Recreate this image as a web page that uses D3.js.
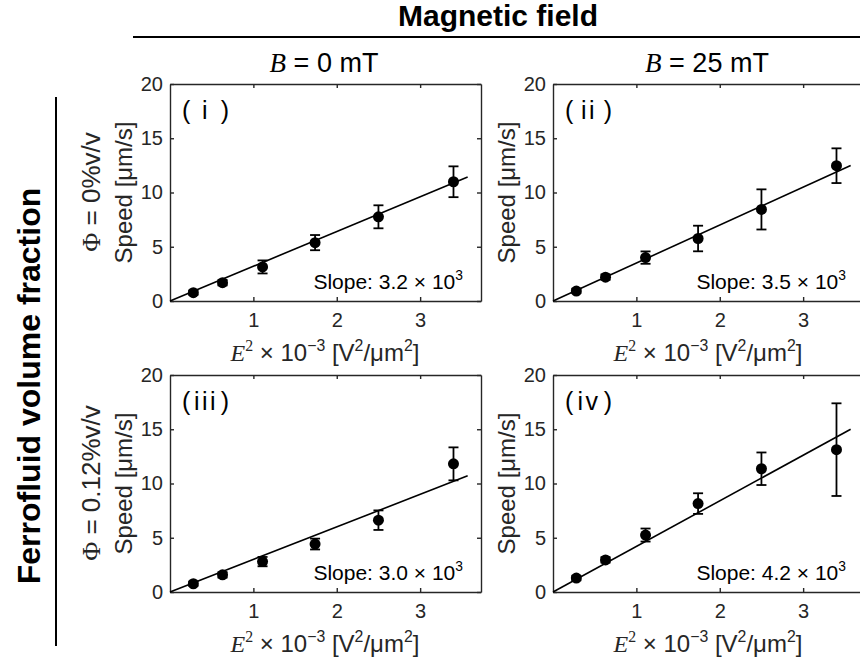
<!DOCTYPE html>
<html>
<head>
<meta charset="utf-8">
<script src="https://cdn.jsdelivr.net/npm/d3@7"></script>
<style>
  body { margin: 0; background: #fff; }
  svg { display: block; font-family: "Liberation Sans", Arial, sans-serif; }
</style>
</head>
<body>
<svg id="chart" width="860" height="664"></svg>
<script>
// E^2 x 10^-3 [V^2/um^2], same six field strengths in every panel
var eSquared = [0.28, 0.63, 1.11, 1.74, 2.50, 3.40];

// speed [um/s] and error bars
var speedI   = [0.77, 1.69, 3.14, 5.38, 7.76, 10.99];
var errI     = [0.20, 0.25, 0.60, 0.70, 1.06, 1.42];
var speedII  = [0.92, 2.20, 4.00, 5.76, 8.44, 12.47];
var errII    = [0.20, 0.25, 0.57, 1.18, 1.85, 1.60];
var speedIII = [0.76, 1.58, 2.80, 4.42, 6.62, 11.81];
var errIII   = [0.20, 0.25, 0.43, 0.50, 0.90, 1.52];
var speedIV  = [1.28, 2.96, 5.25, 8.15, 11.36, 13.12];
var errIV    = [0.20, 0.25, 0.60, 0.95, 1.50, 4.27];

var slopes = [3.2, 3.5, 3.0, 4.2];
var panelNames = ["i", "ii", "iii", "iv"];
var fieldLabels = ["0", "25"];
var fractionLabels = ["0%v/v", "0.12%v/v"];
var xTicks = [1, 2, 3];
var yTicks = [0, 5, 10, 15, 20];
var fitRange = [0, 3.57];

var svg = d3.select("#chart");
var ink = "#262626";

var dim = { w: 311, h: 217, left: [170, 553], top: [84, 375] };

var x = d3.scaleLinear().domain([0, 3.73]).range([0, dim.w]);
var y = d3.scaleLinear().domain([0, 20]).range([dim.h, 0]);

// writes a run of tspans, handling superscripts and math italics
function addParts(text, parts, fs) {
  var shift = 0;
  parts.forEach(function(p) {
    var t = text.append("tspan").text(p.t);
    var target = p.sup ? -0.42 * fs : 0;
    t.attr("dy", target - shift);
    shift = target;
    if (p.sup) t.style("font-size", (0.66 * fs) + "px");
    if (p.it) t.style("font-style", "italic");
    if (p.serif || p.it) t.style("font-family", "'Liberation Serif', 'DejaVu Serif', serif");
  });
}

var panels = [
  { col: 0, row: 0, speed: speedI,   err: errI },
  { col: 1, row: 0, speed: speedII,  err: errII },
  { col: 0, row: 1, speed: speedIII, err: errIII },
  { col: 1, row: 1, speed: speedIV,  err: errIV }
];

panels.forEach(function(p, i) {
  var g = svg.append("g")
    .attr("transform", "translate(" + dim.left[p.col] + "," + dim.top[p.row] + ")");

  // axes box, ticks pointing inward
  var axes = [
    { a: d3.axisBottom(x).tickValues(xTicks).tickFormat(d3.format("d")).tickPadding(12), t: "translate(0," + dim.h + ")" },
    { a: d3.axisTop(x).tickValues(xTicks).tickFormat(""), t: "translate(0,0)" },
    { a: d3.axisLeft(y).tickValues(yTicks).tickPadding(7), t: "translate(0,0)" },
    { a: d3.axisRight(y).tickValues(yTicks).tickFormat(""), t: "translate(" + dim.w + ",0)" }
  ];
  axes.forEach(function(ax) {
    var s = g.append("g")
      .attr("transform", ax.t)
      .call(ax.a.tickSize(-4).tickSizeOuter(0));
    s.selectAll("path, line").attr("stroke", ink).attr("stroke-width", 1.4);
    s.selectAll("text").attr("fill", ink).style("font-size", "20px")
      .style("font-family", "'Liberation Sans', Arial, sans-serif");
  });

  // fit line through origin
  var line = d3.line()
    .x(function(d) { return x(d); })
    .y(function(d) { return y(slopes[i] * d); });
  g.append("path")
    .datum(fitRange)
    .attr("d", line)
    .attr("fill", "none")
    .attr("stroke", "#000")
    .attr("stroke-width", 1.6);

  var pts = eSquared.map(function(e, k) { return { x: e, v: p.speed[k], e: p.err[k] }; });

  var bars = g.selectAll(".bar").data(pts).enter().append("g").attr("class", "bar");
  bars.append("line")
    .attr("x1", function(d) { return x(d.x); })
    .attr("x2", function(d) { return x(d.x); })
    .attr("y1", function(d) { return y(d.v - d.e); })
    .attr("y2", function(d) { return y(d.v + d.e); });
  bars.append("line")
    .attr("x1", function(d) { return x(d.x) - 5; })
    .attr("x2", function(d) { return x(d.x) + 5; })
    .attr("y1", function(d) { return y(d.v + d.e); })
    .attr("y2", function(d) { return y(d.v + d.e); });
  bars.append("line")
    .attr("x1", function(d) { return x(d.x) - 5; })
    .attr("x2", function(d) { return x(d.x) + 5; })
    .attr("y1", function(d) { return y(d.v - d.e); })
    .attr("y2", function(d) { return y(d.v - d.e); });
  bars.selectAll("line").attr("stroke", "#000").attr("stroke-width", 1.8);

  g.selectAll(".dot").data(pts).enter().append("circle")
    .attr("class", "dot")
    .attr("cx", function(d) { return x(d.x); })
    .attr("cy", function(d) { return y(d.v); })
    .attr("r", 5.5)
    .attr("fill", "#000");

  // panel label  ( i )
  g.append("text").attr("x", 12).attr("y", 35).style("font-size", "25px").text("(");
  g.append("text").attr("x", 36).attr("y", 35).attr("text-anchor", "middle")
    .style("font-size", "25px").style("letter-spacing", "2.5px").text(panelNames[i]);
  g.append("text").attr("x", 59).attr("y", 35).attr("text-anchor", "end")
    .style("font-size", "25px").text(")");

  // slope annotation
  var st = g.append("text")
    .attr("x", 293).attr("y", dim.h - 12)
    .attr("text-anchor", "end")
    .style("font-size", "21px");
  addParts(st, [
    { t: "Slope: " + d3.format(".1f")(slopes[i]) + " " },
    { t: "×" },
    { t: " 10" },
    { t: "3", sup: true }
  ], 21);

  // axis labels
  var yl = g.append("text")
    .attr("transform", "translate(-38," + (dim.h / 2) + ") rotate(-90)")
    .attr("text-anchor", "middle")
    .attr("fill", ink)
    .style("font-size", "24px");
  addParts(yl, [{ t: "Speed [μm/s]" }], 24);

  var xl = g.append("text")
    .attr("x", 155).attr("y", dim.h + 60)
    .attr("text-anchor", "middle")
    .attr("fill", ink)
    .style("font-size", "24px");
  addParts(xl, [
    { t: "E", it: true },
    { t: "2", sup: true, serif: true },
    { t: " × 10" },
    { t: "−3", sup: true },
    { t: " [V" },
    { t: "2", sup: true },
    { t: "/μm" },
    { t: "2", sup: true },
    { t: "]" }
  ], 24);
});

// column header
svg.append("text")
  .attr("x", 498).attr("y", 26)
  .attr("text-anchor", "middle")
  .style("font-size", "30px").style("font-weight", "bold")
  .text("Magnetic field");
svg.append("line")
  .attr("x1", 133).attr("x2", 860).attr("y1", 37).attr("y2", 37)
  .attr("stroke", "#000").attr("stroke-width", 2);

fieldLabels.forEach(function(b, c) {
  var t = svg.append("text")
    .attr("x", dim.left[c] + 154).attr("y", 72)
    .attr("text-anchor", "middle")
    .style("font-size", "27px");
  addParts(t, [{ t: "B", it: true }, { t: " = " + b + " mT" }], 27);
});

// row header
svg.append("text")
  .attr("transform", "translate(40,386) rotate(-90)")
  .attr("text-anchor", "middle")
  .style("font-size", "32px").style("font-weight", "bold")
  .text("Ferrofluid volume fraction");
svg.append("line")
  .attr("x1", 56).attr("x2", 56).attr("y1", 97).attr("y2", 646)
  .attr("stroke", "#000").attr("stroke-width", 2);

fractionLabels.forEach(function(f, r) {
  var t = svg.append("text")
    .attr("transform", "translate(100," + (dim.top[r] + 108) + ") rotate(-90)")
    .attr("text-anchor", "middle")
    .attr("fill", ink)
    .style("font-size", "26px");
  addParts(t, [{ t: "Φ", serif: true }, { t: " = " + f }], 26);
});
</script>
</body>
</html>
